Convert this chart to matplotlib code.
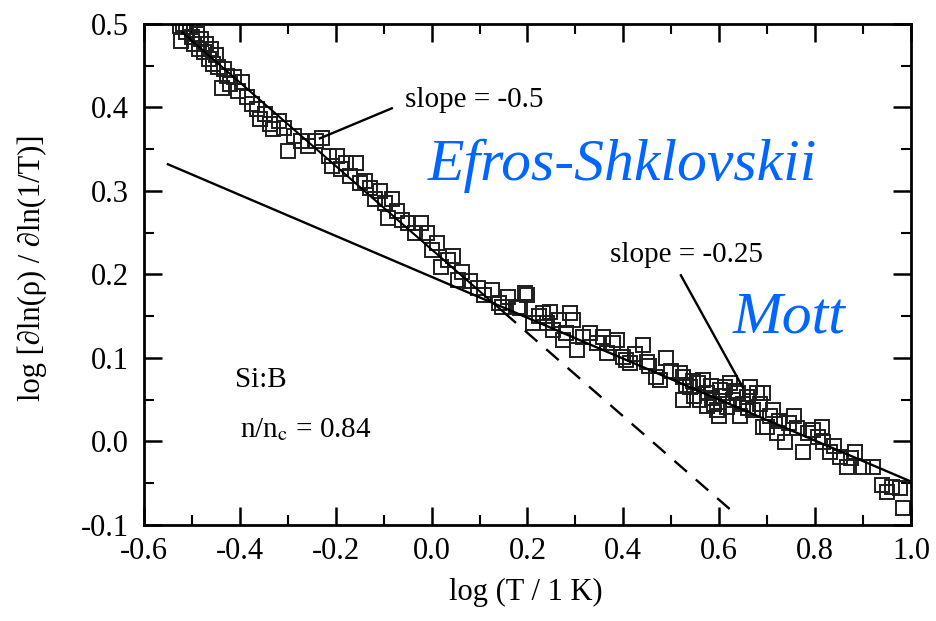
import numpy as np
import matplotlib.pyplot as plt
from matplotlib.ticker import MultipleLocator

plt.rcParams['font.family'] = ['Liberation Serif', 'DejaVu Serif']
plt.rcParams['mathtext.fontset'] = 'stix'
plt.rcParams['axes.unicode_minus'] = False

# data points (open squares)
data_x = [-0.525, -0.518, -0.512, -0.505, -0.500, -0.522, -0.495, -0.490, -0.485, -0.480,
          -0.475, -0.470, -0.465, -0.460, -0.455, -0.450, -0.445, -0.437, -0.432, -0.427,
          -0.420, -0.412, -0.403, -0.395, -0.385, -0.375, -0.365, -0.358, -0.348, -0.338,
          -0.331, -0.318, -0.308, -0.300, -0.287, -0.272, -0.258, -0.242, -0.229, -0.215,
          -0.208, -0.198, -0.188, -0.178, -0.170, -0.158, -0.150, -0.138, -0.128, -0.118,
          -0.108, -0.098, -0.090, -0.082, -0.072, -0.062, -0.050, -0.035, -0.022, -0.010,
          0.000, 0.012, 0.020, 0.034, 0.045, 0.055, 0.063, 0.080, 0.097, 0.110,
          0.126, 0.140, 0.147, 0.160, 0.180, 0.184, 0.195, 0.199, 0.211, 0.225,
          0.232, 0.240, 0.247, 0.253, 0.265, 0.274, 0.280, 0.288, 0.295, 0.303,
          0.315, 0.330, 0.345, 0.357, 0.366, 0.378, 0.386, 0.400, 0.405, 0.414,
          0.425, 0.441, 0.449, 0.453, 0.468, 0.476, 0.489, 0.500, 0.518, 0.524,
          0.524, 0.530, 0.539, 0.545, 0.548, 0.556, 0.560, 0.566, 0.574, 0.575,
          0.582, 0.585, 0.590, 0.595, 0.600, 0.601, 0.608, 0.612, 0.616, 0.622,
          0.628, 0.635, 0.640, 0.643, 0.650, 0.657, 0.660, 0.665, 0.670, 0.678,
          0.685, 0.691, 0.691, 0.699, 0.705, 0.712, 0.720, 0.725, 0.737, 0.745,
          0.755, 0.762, 0.774, 0.785, 0.795, 0.805, 0.814, 0.816, 0.830, 0.840,
          0.852, 0.866, 0.875, 0.883, 0.900, 0.920, 0.939, 0.949, 0.960, 0.977,
          0.983]
data_y = [0.497, 0.500, 0.490, 0.496, 0.484, 0.480, 0.476, 0.488, 0.470, 0.482,
          0.466, 0.476, 0.458, 0.470, 0.452, 0.463, 0.448, 0.423, 0.446, 0.438,
          0.428, 0.436, 0.420, 0.430, 0.412, 0.404, 0.398, 0.386, 0.392, 0.380,
          0.374, 0.384, 0.376, 0.348, 0.366, 0.360, 0.354, 0.360, 0.363, 0.342,
          0.330, 0.342, 0.326, 0.334, 0.318, 0.334, 0.310, 0.312, 0.304, 0.290,
          0.300, 0.286, 0.268, 0.290, 0.276, 0.265, 0.262, 0.250, 0.262, 0.250,
          0.229, 0.238, 0.209, 0.217, 0.222, 0.193, 0.203, 0.192, 0.184, 0.176,
          0.181, 0.166, 0.161, 0.173, 0.161, 0.160, 0.178, 0.175, 0.142, 0.150,
          0.154, 0.142, 0.155, 0.133, 0.145, 0.121, 0.130, 0.154, 0.145, 0.110,
          0.125, 0.130, 0.118, 0.125, 0.106, 0.118, 0.121, 0.101, 0.098, 0.094,
          0.105, 0.116, 0.095, 0.090, 0.077, 0.074, 0.100, 0.085, 0.082, 0.077,
          0.050, 0.068, 0.065, 0.072, 0.055, 0.070, 0.050, 0.074, 0.058, 0.042,
          0.066, 0.052, 0.045, 0.038, 0.030, 0.062, 0.055, 0.065, 0.041, 0.070,
          0.050, 0.060, 0.058, 0.030, 0.045, 0.053, 0.040, 0.065, 0.038, 0.058,
          0.045, 0.017, 0.058, 0.017, 0.030, 0.038, 0.010, 0.025, -0.001, 0.022,
          0.030, 0.016, -0.013, 0.010, 0.014, 0.005, 0.017, -0.001, -0.013, -0.005,
          -0.019, -0.031, -0.020, -0.013, -0.031, -0.031, -0.052, -0.060, -0.054, -0.056,
          -0.080]

# fit lines
mott_x = [-0.55, 1.0]
mott_y = [0.332, -0.048]
es_x = [-0.52, 0.15]
es_y = [0.49, 0.155]
es_dash_x = [0.15, 0.63]
es_dash_y = [0.155, -0.085]

# annotation leaders
lead1_x = [-0.083, -0.233]
lead1_y = [0.399, 0.363]
lead2_x = [0.52, 0.649]
lead2_y = [0.199, 0.065]

fig = plt.figure(figsize=(9.36, 6.21), dpi=100)
ax = fig.add_axes([0.1538, 0.1546, 0.8195, 0.8068])

ax.plot(data_x, data_y, 's', mfc='none', mec='#1e1e1e', ms=10.5, mew=1.4)
ax.plot(mott_x, mott_y, color='black', lw=1.7)
ax.plot(es_x, es_y, color='black', lw=1.5)
ax.plot(es_dash_x, es_dash_y, color='black', lw=1.7, dashes=(7, 5))
ax.plot(lead1_x, lead1_y, color='black', lw=1.7)
ax.plot(lead2_x, lead2_y, color='black', lw=1.7)

ax.text(-0.056, 0.409, 'slope = -0.5', fontsize=21, va='center')
ax.text(0.372, 0.2234, 'slope = -0.25', fontsize=21, va='center')
ax.text(-0.41, 0.074, 'Si:B', fontsize=21, va='center')
ax.text(-0.40, 0.014, r'n/n$_\mathrm{c}$ = 0.84', fontsize=21, va='center')

ax.text(0.399, 0.313, 'Efros-Shklovskii', fontsize=43, style='italic',
        color='#0066FF', ha='center', va='baseline')
ax.text(0.745, 0.13, 'Mott', fontsize=43, style='italic',
        color='#0066FF', ha='center', va='baseline')

ax.set_xlim(-0.6, 1.0)
ax.set_ylim(-0.1, 0.5)
ax.set_xticks(np.arange(-0.6, 1.01, 0.2))
ax.set_yticks(np.arange(-0.1, 0.51, 0.1))
ax.xaxis.set_major_formatter(plt.FormatStrFormatter('%.1f'))
ax.yaxis.set_major_formatter(plt.FormatStrFormatter('%.1f'))
ax.xaxis.set_minor_locator(MultipleLocator(0.1))
ax.yaxis.set_minor_locator(MultipleLocator(0.05))
ax.tick_params(which='both', direction='in', top=True, right=True, labelsize=22)
ax.tick_params(which='major', length=13, width=1.8)
ax.tick_params(which='minor', length=7, width=1.5)
ax.tick_params(axis='x', pad=9)
ax.tick_params(axis='y', pad=11)
for s in ax.spines.values():
    s.set_linewidth(2)

ax.set_xlabel('log (T / 1 K)', fontsize=22)
ax.set_ylabel('log [∂ln(ρ) / ∂ln(1/T)]', fontsize=22)
ax.xaxis.set_label_coords(0.498, -0.106)
ax.xaxis.label.set_va('top')
ax.yaxis.set_label_coords(-0.127, 0.513)

fig.savefig('out.png', dpi=100)
